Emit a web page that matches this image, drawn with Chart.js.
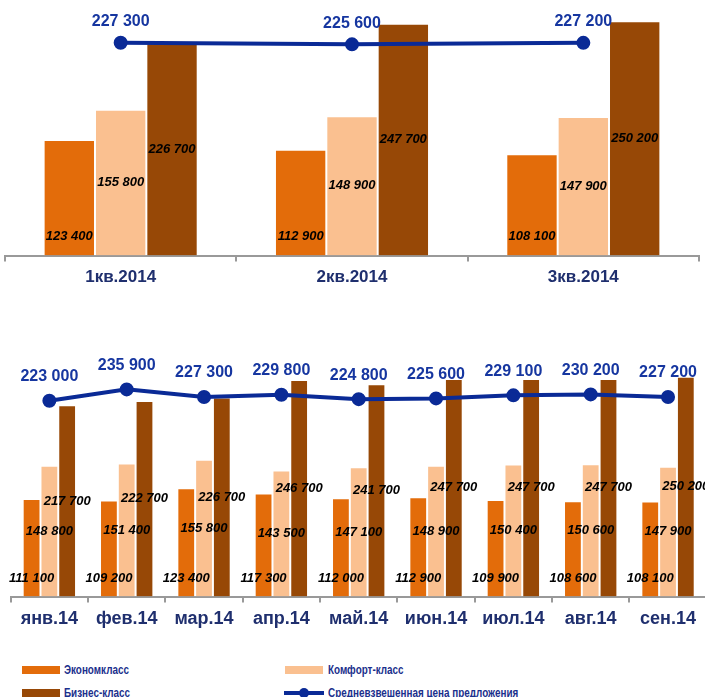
<!DOCTYPE html>
<html>
<head>
<meta charset="utf-8">
<script src="https://cdn.jsdelivr.net/npm/chart.js@4/dist/chart.umd.min.js"></script>
<style>
  html, body { margin: 0; padding: 0; background: #fff; overflow: hidden; width: 705px; height: 697px; }
  #top { position: absolute; left: 0; top: 0; }
  #bottom { position: absolute; left: 0; top: 300px; }
  .lg { position: absolute; font: bold 13px "Liberation Sans", Arial, sans-serif; color: #1a2f8c; white-space: nowrap; line-height: 15px; transform: scaleX(0.76); transform-origin: 0 0; }
  .sw { position: absolute; width: 38px; height: 8px; }
</style>
</head>
<body>
<canvas id="top" width="705" height="300"></canvas>
<canvas id="bottom" width="712" height="340"></canvas>

<div class="sw" style="left:22px;top:666px;background:#E36C0A"></div>
<div class="lg" style="left:64px;top:662px">Экономкласс</div>
<div class="sw" style="left:285px;top:666px;background:#FAC090"></div>
<div class="lg" style="left:328px;top:662px">Комфорт-класс</div>
<div class="sw" style="left:22px;top:689px;background:#974806"></div>
<div class="lg" style="left:64px;top:685px">Бизнес-класс</div>
<div style="position:absolute;left:284px;top:691px;width:40px;height:4px;background:#0a2a96"></div>
<div style="position:absolute;left:299px;top:688px;width:10px;height:10px;border-radius:5px;background:#0a2a96"></div>
<div class="lg" style="left:328px;top:685px">Средневзвешенная цена предложения</div>

<script>
// данные по кварталам
const quarters = ['1кв.2014', '2кв.2014', '3кв.2014'];
const qEconomy = [123400, 112900, 108100];
const qComfort = [155800, 148900, 147900];
const qBusiness = [226700, 247700, 250200];
const qAverage = [227300, 225600, 227200];

// данные по месяцам
const months = ['янв.14', 'фев.14', 'мар.14', 'апр.14', 'май.14', 'июн.14', 'июл.14', 'авг.14', 'сен.14'];
const mEconomy = [111100, 109200, 123400, 117300, 112000, 112900, 109900, 108600, 108100];
const mComfort = [148800, 151400, 155800, 143500, 147100, 148900, 150400, 150600, 147900];
const mBusiness = [217700, 222700, 226700, 246700, 241700, 247700, 247700, 247700, 250200];
const mAverage = [223000, 235900, 227300, 229800, 224800, 225600, 229100, 230200, 227200];

const colEconomy = '#E36C0A';
const colComfort = '#FAC090';
const colBusiness = '#974806';
const colLine = '#0a2a96';

function fmt(v) {
  return String(v).replace(/\B(?=(\d{3})+(?!\d))/g, ' ');
}

// подписи значений поверх столбцов и линии
const valueLabels = {
  id: 'valueLabels',
  afterDatasetsDraw(chart, args, opts) {
    const ctx = chart.ctx;
    const base = chart.scales.y.getPixelForValue(0);
    ctx.save();
    ctx.textAlign = 'center';
    ctx.textBaseline = 'middle';
    chart.data.datasets.forEach((ds, i) => {
      const meta = chart.getDatasetMeta(i);
      meta.data.forEach((el, j) => {
        let y;
        if (ds.type === 'line') {
          ctx.font = 'bold 16px "Liberation Sans", Arial, sans-serif';
          ctx.fillStyle = '#1636a0';
          y = el.y - opts.lineOffset;
        } else {
          ctx.font = 'italic bold 13px "Liberation Sans", Arial, sans-serif';
          ctx.fillStyle = '#000';
          y = ds.label === 'Экономкласс' ? base - opts.bottomOffset : (el.y + base) / 2;
        }
        ctx.fillText(fmt(ds.data[j]), el.x, y);
      });
    });
    ctx.restore();
  }
};

function makeChart(id, labels, eco, com, bus, avg, o) {
  return new Chart(document.getElementById(id), {
    type: 'bar',
    data: {
      labels: labels,
      datasets: [
        { type: 'line', label: 'Средневзвешенная цена предложения', data: avg, borderColor: colLine, backgroundColor: colLine,
          borderWidth: 4, pointRadius: 5, pointHoverRadius: 5, tension: 0, order: 0 },
        { label: 'Экономкласс', data: eco, backgroundColor: colEconomy, borderColor: 'rgba(255,255,255,0.5)', borderWidth: 1, order: 1 },
        { label: 'Комфорт-класс', data: com, backgroundColor: colComfort, borderColor: 'rgba(255,255,255,0.5)', borderWidth: 1, order: 1 },
        { label: 'Бизнес-класс', data: bus, backgroundColor: colBusiness, borderColor: 'rgba(255,255,255,0.5)', borderWidth: 1, order: 1 }
      ]
    },
    options: {
      responsive: false,
      animation: false,
      layout: { autoPadding: false, padding: { left: o.left, right: o.right, top: 0, bottom: 0 } },
      categoryPercentage: o.cat,
      barPercentage: 1,
      plugins: {
        legend: { display: false },
        tooltip: { enabled: false },
        valueLabels: { lineOffset: o.lineOffset, bottomOffset: o.bottomOffset }
      },
      scales: {
        y: { display: false, min: 0, max: o.max },
        x: {
          afterFit: s => { s.height = o.axisH; },
          border: { color: '#999', width: 2 },
          grid: { offset: true, drawOnChartArea: false, drawTicks: true, tickLength: 6, color: '#999', lineWidth: 2 },
          ticks: { color: '#1f2f6e', padding: 6, font: { family: '"Liberation Sans", Arial, sans-serif', weight: 'bold', size: o.tickSize } }
        }
      }
    },
    plugins: [valueLabels]
  });
}

makeChart('top', quarters, qEconomy, qComfort, qBusiness, qAverage,
  { left: 5, right: 6, cat: 0.666, max: 273000, axisH: 44.5, tickSize: 17, lineOffset: 21, bottomOffset: 19 });
makeChart('bottom', months, mEconomy, mComfort, mBusiness, mAverage,
  { left: 10.7, right: 5.3, cat: 0.69, max: 337700, axisH: 43.5, tickSize: 18, lineOffset: 24, bottomOffset: 18 });
</script>
</body>
</html>
